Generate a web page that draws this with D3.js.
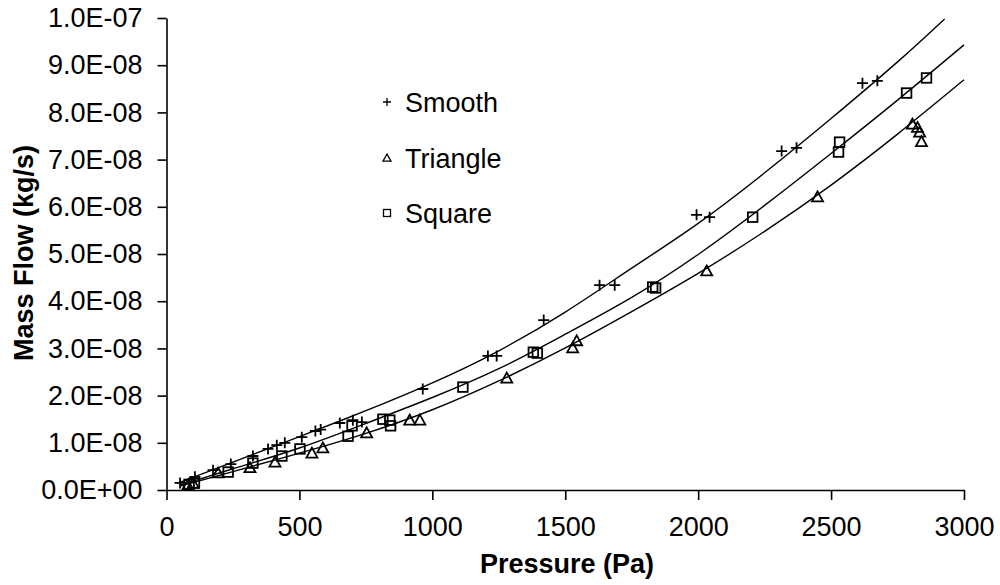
<!DOCTYPE html>
<html>
<head>
<meta charset="utf-8">
<script src="https://cdn.jsdelivr.net/npm/d3@7/dist/d3.min.js"></script>
<style>
  html, body { margin: 0; padding: 0; background: #fff; }
  svg { display: block; }
  text { font-family: "Liberation Sans", Arial, sans-serif; fill: #000; }
</style>
</head>
<body>
<svg id="chart" width="1000" height="585"></svg>
<script>
// ---- data (pressure in Pa, mass flow in kg/s) ----
const smoothP = [51,107,175,242,325,382,415,445,509,560,580,652,701,735,964,1209,1242,1419,1629,1686,1994,2043,2314,2370,2618,2674];
const smoothM = [0.15e-8,0.28e-8,0.42e-8,0.55e-8,0.72e-8,0.87e-8,0.95e-8,1.00e-8,1.12e-8,1.25e-8,1.28e-8,1.42e-8,1.48e-8,1.44e-8,2.14e-8,2.84e-8,2.84e-8,3.60e-8,4.34e-8,4.34e-8,5.83e-8,5.78e-8,7.18e-8,7.25e-8,8.62e-8,8.67e-8];

const triangleP = [80,100,194,314,408,547,588,753,915,953,1280,1528,1543,2032,2449,2806,2825,2833,2840];
const triangleM = [0.10e-8,0.14e-8,0.36e-8,0.47e-8,0.59e-8,0.78e-8,0.89e-8,1.21e-8,1.48e-8,1.48e-8,2.37e-8,3.01e-8,3.16e-8,4.64e-8,6.21e-8,7.75e-8,7.68e-8,7.58e-8,7.38e-8];

const squareP = [85,105,232,325,434,502,683,698,814,840,843,1115,1380,1395,1829,1840,2205,2528,2532,2784,2859];
const squareM = [0.12e-8,0.15e-8,0.38e-8,0.57e-8,0.72e-8,0.87e-8,1.14e-8,1.36e-8,1.50e-8,1.48e-8,1.36e-8,2.18e-8,2.92e-8,2.90e-8,4.30e-8,4.28e-8,5.78e-8,7.16e-8,7.37e-8,8.41e-8,8.73e-8];

// trend curves
const smoothFitP = [40,250,500,750,1000,1250,1500,1750,2000,2250,2500,2750,2927];
const smoothFitM = [0.14e-8,0.59e-8,1.13e-8,1.68e-8,2.27e-8,2.95e-8,3.77e-8,4.70e-8,5.65e-8,6.72e-8,7.87e-8,9.07e-8,9.98e-8];
const squareFitP = [55,250,500,750,1000,1250,1500,1750,2000,2250,2500,2750,3000];
const squareFitM = [0.11e-8,0.45e-8,0.89e-8,1.41e-8,1.96e-8,2.57e-8,3.30e-8,4.08e-8,4.99e-8,6.03e-8,7.13e-8,8.26e-8,9.43e-8];
const triangleFitP = [55,250,500,750,1000,1250,1500,1750,2000,2250,2500,2750,3000];
const triangleFitM = [0.09e-8,0.39e-8,0.78e-8,1.20e-8,1.70e-8,2.31e-8,3.01e-8,3.78e-8,4.59e-8,5.48e-8,6.46e-8,7.54e-8,8.69e-8];

const xTicks = [0,500,1000,1500,2000,2500,3000];
const yTicks = [0,1e-8,2e-8,3e-8,4e-8,5e-8,6e-8,7e-8,8e-8,9e-8,1e-7];
const yTickLabels = ["0.0E+00","1.0E-08","2.0E-08","3.0E-08","4.0E-08","5.0E-08","6.0E-08","7.0E-08","8.0E-08","9.0E-08","1.0E-07"];
const seriesNames = ["Smooth","Triangle","Square"];

// ---- drawing ----
const svg = d3.select("#chart");
const x = d3.scaleLinear().domain([0,3000]).range([166.5,964]);
const y = d3.scaleLinear().domain([0,1e-7]).range([490,18]);

// axes
const xAxis = d3.axisBottom(x).tickValues(xTicks).tickSize(10).tickSizeOuter(0).tickPadding(12).tickFormat(d3.format("d"));
const gx = svg.append("g").attr("transform","translate(0,490)").call(xAxis);
const yAxis = d3.axisLeft(y).tickValues(yTicks).tickSize(9).tickSizeOuter(0).tickPadding(15)
  .tickFormat((d,i) => yTickLabels[i]);
const gy = svg.append("g").attr("transform","translate(166.5,0)").call(yAxis);
[gx,gy].forEach(g => {
  g.selectAll("path").attr("stroke","#000").attr("stroke-width",1.6);
  g.selectAll("line").attr("stroke","#000").attr("stroke-width",1.6);
  g.selectAll("text").attr("font-size",27).attr("font-family","'Liberation Sans', Arial, sans-serif").attr("fill","#000");
});
gx.selectAll("text").attr("dy","0.9em");

// axis titles
svg.append("text").attr("x",567).attr("y",573).attr("text-anchor","middle")
  .attr("font-size",27).attr("font-weight","bold").text("Pressure (Pa)");
svg.append("text").attr("transform","translate(33,253) rotate(-90)").attr("text-anchor","middle")
  .attr("font-size",27).attr("font-weight","bold").text("Mass Flow (kg/s)");

// trend curves
const line = d3.line().x(d => x(d[0])).y(d => y(d[1])).curve(d3.curveNatural);
const fits = [[smoothFitP,smoothFitM],[triangleFitP,triangleFitM],[squareFitP,squareFitM]];
fits.forEach(([ps,ms]) => {
  svg.append("path").datum(d3.zip(ps,ms)).attr("d",line)
    .attr("fill","none").attr("stroke","#000").attr("stroke-width",1.4);
});

// markers
function drawMarker(g, type, cx, cy, s) {
  if (type === "Smooth") {
    g.append("path").attr("d",`M${cx-s},${cy}H${cx+s}M${cx},${cy-s}V${cy+s}`)
      .attr("stroke","#000").attr("stroke-width",1.8).attr("fill","none");
  } else if (type === "Triangle") {
    g.append("path").attr("d",`M${cx},${cy-s}L${cx+s},${cy+s*0.8}L${cx-s},${cy+s*0.8}Z`)
      .attr("stroke","#000").attr("stroke-width",1.8).attr("fill","none");
  } else {
    g.append("rect").attr("x",cx-s).attr("y",cy-s).attr("width",2*s).attr("height",2*s)
      .attr("stroke","#000").attr("stroke-width",1.8).attr("fill","none");
  }
}
const mg = svg.append("g");
const seriesData = [[smoothP,smoothM],[triangleP,triangleM],[squareP,squareM]];
seriesData.forEach(([ps,ms],k) => {
  const type = seriesNames[k];
  const sz = type === "Smooth" ? 5.5 : (type === "Triangle" ? 5.5 : 4.8);
  ps.forEach((p,i) => drawMarker(mg, type, x(p), y(ms[i]), sz));
});

// legend
const lg = svg.append("g");
const legendY = [102,158,213];
seriesNames.forEach((name,i) => {
  drawMarker(lg, name, 387, legendY[i], name === "Square" ? 3.5 : 4);
  lg.select(":last-child").attr("stroke-width",1.3);
  lg.append("text").attr("x",405).attr("y",legendY[i]).attr("dy","0.36em")
    .attr("font-size",27).text(name);
});
</script>
</body>
</html>
